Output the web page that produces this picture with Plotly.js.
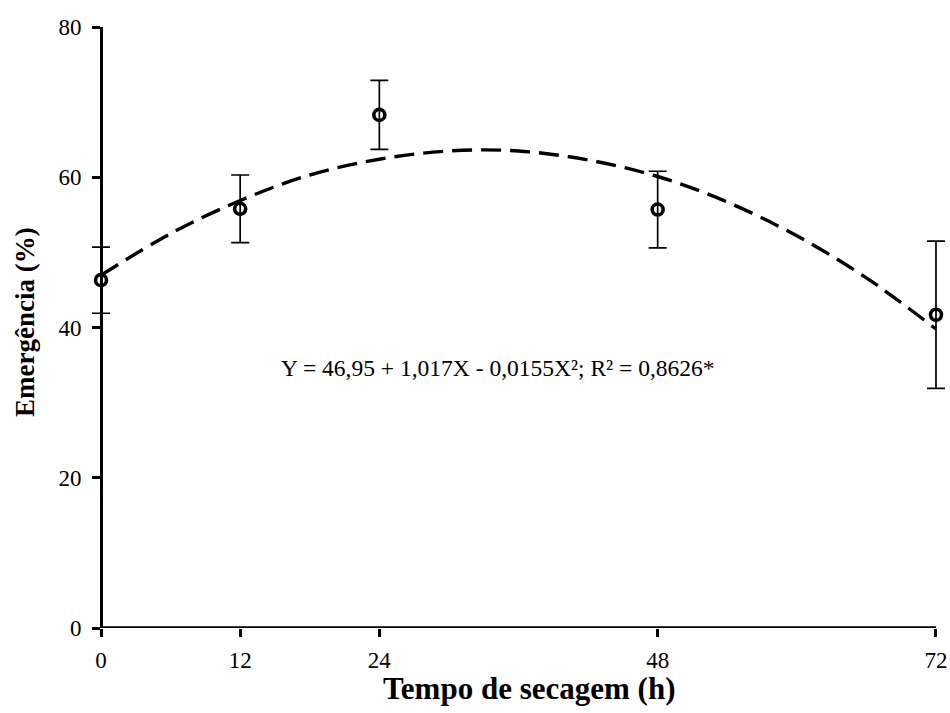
<!DOCTYPE html>
<html>
<head>
<meta charset="utf-8">
<script src="https://cdn.plot.ly/plotly-3.0.1.min.js"></script>
<style>html,body{margin:0;padding:0;background:#fff;}#chart{width:950px;height:713px;}</style>
</head>
<body>
<div id="chart"></div>
<script>
const hours = [0, 12, 24, 48, 72];
const emergence = [46.3, 55.8, 68.3, 55.7, 41.7];
const errors = [4.4, 4.5, 4.6, 5.1, 9.8];

// Fitted trend curve
const fitHours = [0, 6, 12, 18, 24, 30, 36, 42, 48, 54, 60, 66, 72];
const fitValues = [46.95, 52.5, 56.9, 60.3, 62.4, 63.5, 63.5, 62.3, 60.1, 56.7, 52.2, 46.6, 39.8];

const xTicks = [0, 12, 24, 48, 72];
const yTicks = [0, 20, 40, 60, 80];
const xMin = 0, xMax = 72, yMin = 0, yMax = 80;
const equationText = 'Y = 46,95 + 1,017X - 0,0155X²; R² = 0,8626*';

const serif = 'Liberation Serif, Times New Roman, serif';
const pad = 0.8633; // small padding so the end error bars are not clipped

const W = 950, H = 713, ML = 91, MR = 4, MT = 27, MB = 85;
const plotW = W - ML - MR, plotH = H - MT - MB;

const traces = [
  {
    x: fitHours, y: fitValues, mode: 'lines', type: 'scatter',
    line: {color: '#000', width: 3.4, dash: '20px,9px', shape: 'spline'},
    hoverinfo: 'skip', cliponaxis: false
  },
  {
    x: hours, y: emergence, mode: 'markers', type: 'scatter',
    marker: {symbol: 'circle-open', size: 11, color: '#000', line: {color: '#000', width: 3.6}},
    error_y: {type: 'data', array: errors, visible: true, color: '#000', thickness: 1.7, width: 9},
    cliponaxis: false
  }
];

const layout = {
  width: W, height: H,
  margin: {l: ML, r: MR, t: MT, b: MB},
  paper_bgcolor: '#fff', plot_bgcolor: '#fff',
  showlegend: false,
  font: {family: serif, color: '#000', size: 23},
  xaxis: {
    range: [xMin - pad, xMax + pad], tickvals: xTicks, ticktext: xTicks.map(String),
    showgrid: false, zeroline: false, showline: false,
    ticks: 'outside', ticklen: 8, tickwidth: 3, tickcolor: '#000',
    ticklabelstandoff: 3,
    tickfont: {family: serif, size: 23, color: '#000'}
  },
  yaxis: {
    range: [yMin, yMax], tickvals: yTicks, ticktext: yTicks.map(String),
    anchor: 'free', position: pad / (xMax - xMin + 2 * pad),
    showgrid: false, zeroline: false, showline: true, linecolor: '#000', linewidth: 3.4,
    ticks: 'outside', ticklen: 8, tickwidth: 3, tickcolor: '#000',
    ticklabelstandoff: 6,
    tickfont: {family: serif, size: 23, color: '#000'}
  },
  shapes: [
    {type: 'line', xref: 'x', yref: 'y', x0: xMin, x1: xMax, y0: yMin, y1: yMin,
     line: {color: '#000', width: 3.4}, layer: 'above'}
  ],
  annotations: [
    {
      text: equationText, x: 34.2, y: 34.6, xref: 'x', yref: 'y',
      xanchor: 'center', yanchor: 'middle',
      showarrow: false, font: {family: serif, size: 23.5, color: '#000'}
    },
    {
      text: '<b>Tempo de secagem (h)</b>',
      x: (529 - ML) / plotW, y: (MT + plotH - 688) / plotH, xref: 'paper', yref: 'paper',
      xanchor: 'center', yanchor: 'middle',
      showarrow: false, font: {family: serif, size: 31, color: '#000'}
    },
    {
      text: '<b>Emergência (%)</b>', textangle: -90,
      x: (25 - ML) / plotW, y: (MT + plotH - 322) / plotH, xref: 'paper', yref: 'paper',
      xanchor: 'center', yanchor: 'middle',
      showarrow: false, font: {family: serif, size: 27, color: '#000'}
    }
  ]
};

Plotly.newPlot('chart', traces, layout, {staticPlot: true, displayModeBar: false});
</script>
</body>
</html>
